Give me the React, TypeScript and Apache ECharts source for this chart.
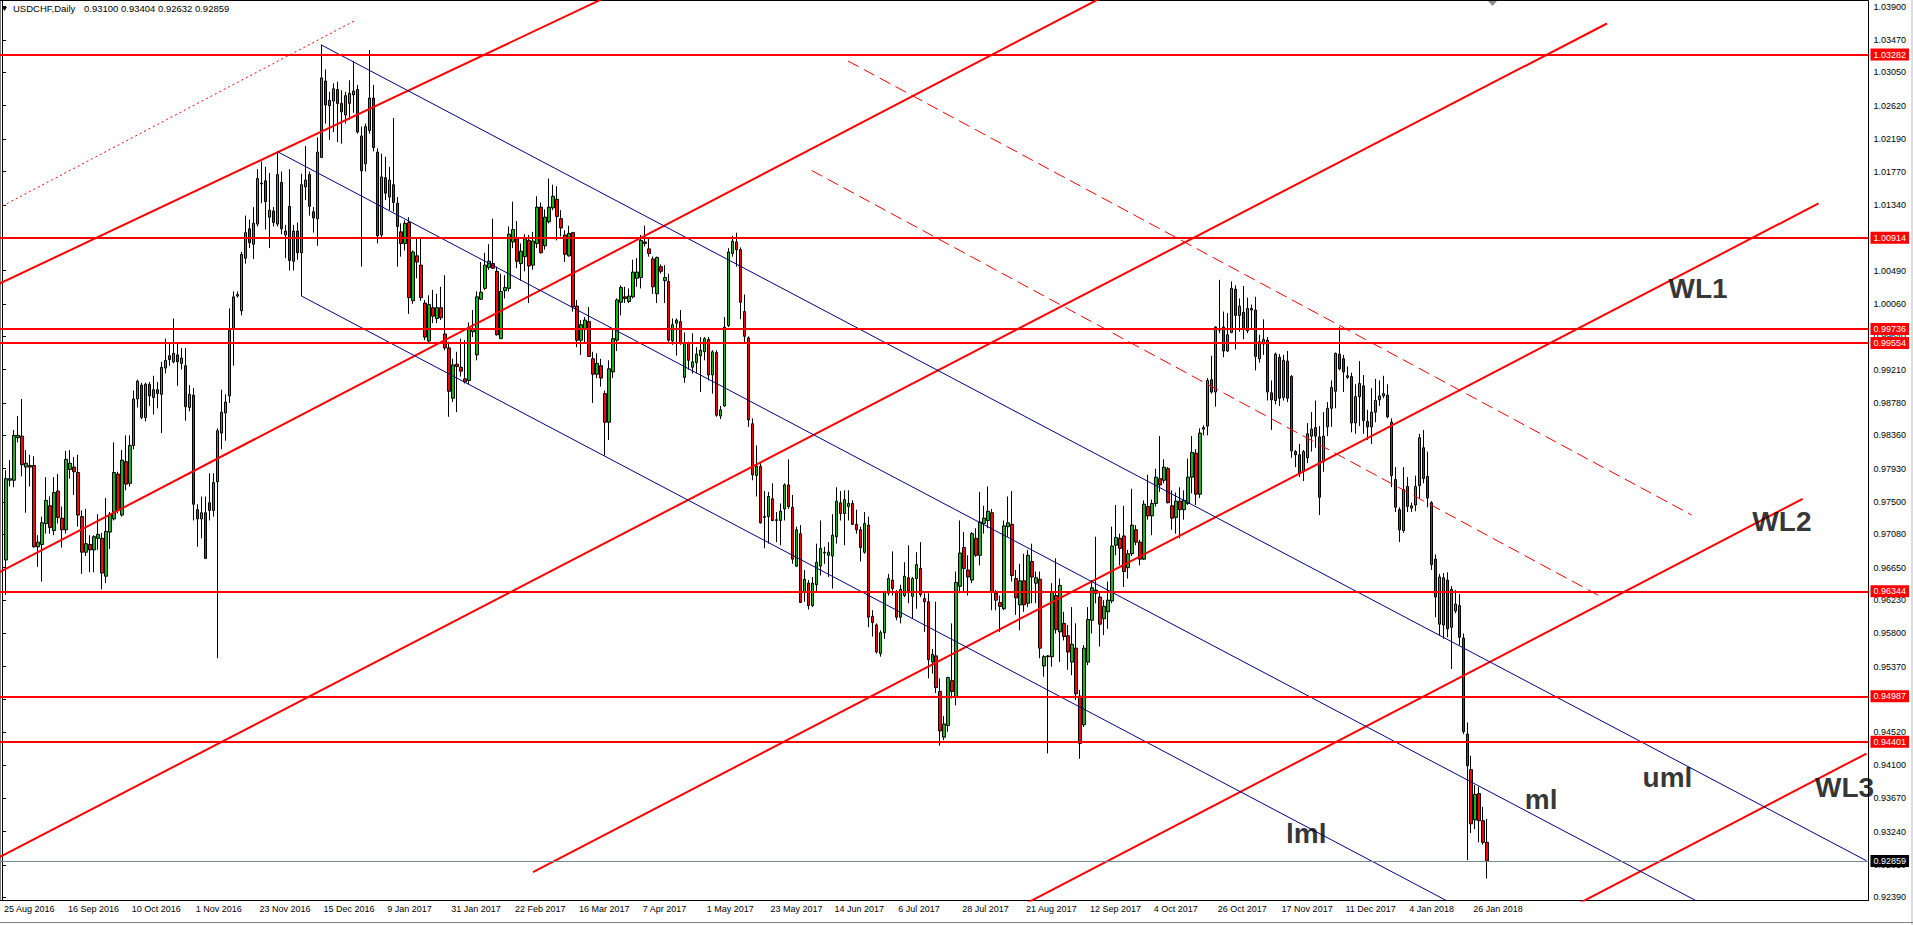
import React, { useEffect, useRef } from "react";
import * as echarts from "echarts";

const FONT = "Liberation Sans";

const symbolName = "USDCHF,Daily";
const lastBarText = "0.93100 0.93404 0.92632 0.92859";

// daily candles [open, close, low, high]; bar 0 (25 Aug 2016) is off the left edge
const ohlc: (number[] | string)[] = [
  "-",
  [0.9675, 0.978, 0.963, 0.9791], [0.9778, 0.978, 0.977, 0.9804], [0.9778, 0.9836, 0.9769, 0.9843], [0.9833, 0.9836, 0.9827, 0.9861],
  [0.9835, 0.9798, 0.9783, 0.9883], [0.9795, 0.98, 0.9736, 0.9817], [0.9797, 0.9795, 0.977, 0.9811], [0.9797, 0.9692, 0.9691, 0.9809],
  [0.9692, 0.9698, 0.9666, 0.9707], [0.9695, 0.9723, 0.9647, 0.9731], [0.9722, 0.9752, 0.9709, 0.9782], [0.9745, 0.9717, 0.9709, 0.9757],
  [0.9713, 0.9762, 0.9707, 0.9782], [0.9764, 0.973, 0.9722, 0.9786], [0.9729, 0.9714, 0.9691, 0.9744], [0.9714, 0.9805, 0.9709, 0.9816],
  [0.9792, 0.98, 0.978, 0.9817], [0.9795, 0.9789, 0.9759, 0.9808], [0.9788, 0.9733, 0.9718, 0.9811], [0.9731, 0.9685, 0.9657, 0.9739],
  [0.9685, 0.9696, 0.968, 0.9741], [0.9695, 0.9688, 0.9659, 0.9707], [0.9688, 0.9705, 0.9659, 0.9707], [0.9703, 0.9708, 0.9688, 0.9734],
  [0.9703, 0.9658, 0.9637, 0.971], [0.9654, 0.9712, 0.9645, 0.9755], [0.9711, 0.9734, 0.9689, 0.9737], [0.9728, 0.9788, 0.9726, 0.9827],
  [0.9786, 0.9739, 0.9735, 0.9789], [0.9733, 0.9804, 0.9731, 0.9817], [0.9802, 0.9773, 0.9765, 0.9836], [0.9774, 0.9823, 0.977, 0.9836],
  [0.9823, 0.9883, 0.9818, 0.9894], [0.9883, 0.9906, 0.9872, 0.9908], [0.9901, 0.9859, 0.9857, 0.9904], [0.9859, 0.9902, 0.9854, 0.9904],
  [0.9902, 0.9887, 0.9874, 0.9905], [0.9885, 0.9895, 0.9863, 0.9913], [0.9895, 0.989, 0.9871, 0.9905], [0.9889, 0.9924, 0.9839, 0.9931],
  [0.9923, 0.9933, 0.9916, 0.9961], [0.9939, 0.9934, 0.9926, 0.9956], [0.9931, 0.9942, 0.9929, 0.9987], [0.994, 0.9931, 0.99, 0.9956],
  [0.9929, 0.9936, 0.9921, 0.9949], [0.9926, 0.9873, 0.9855, 0.9949], [0.9872, 0.9889, 0.9867, 0.9901], [0.9888, 0.9747, 0.9726, 0.9897],
  [0.974, 0.9728, 0.9692, 0.9747], [0.9728, 0.9736, 0.9703, 0.9757], [0.9736, 0.9677, 0.9677, 0.9757], [0.9749, 0.9739, 0.9726, 0.9787],
  [0.9739, 0.9775, 0.9731, 0.9787], [0.9776, 0.9842, 0.9548, 0.9845], [0.9839, 0.9866, 0.9818, 0.9895], [0.9865, 0.9879, 0.9829, 0.9889],
  [0.9887, 0.9972, 0.9878, 1.0], [0.9973, 1.0015, 0.9926, 1.0022], [1.0016, 1.0018, 1.0014, 1.0022], [0.9997, 1.007, 0.9991, 1.0073],
  [1.0065, 1.0098, 1.0058, 1.012], [1.0103, 1.0085, 1.0078, 1.0115], [1.0083, 1.011, 1.0064, 1.0131], [1.0109, 1.0168, 1.0106, 1.018],
  [1.0162, 1.0161, 1.0136, 1.019], [1.0165, 1.0138, 1.0102, 1.0183], [1.0118, 1.0127, 1.0078, 1.0175], [1.0126, 1.0111, 1.0106, 1.0131],
  [1.0109, 1.0173, 1.0106, 1.0203], [1.0163, 1.0103, 1.0096, 1.0177], [1.0095, 1.01, 1.0065, 1.0108], [1.0132, 1.0062, 1.0049, 1.018],
  [1.0061, 1.01, 1.0049, 1.0108], [1.01, 1.0072, 1.0063, 1.0111], [1.0072, 1.016, 1.0016, 1.0174], [1.0157, 1.0166, 1.014, 1.021],
  [1.0173, 1.0132, 1.012, 1.0177], [1.0125, 1.0117, 1.0098, 1.0131], [1.0116, 1.0202, 1.0081, 1.0221], [1.0195, 1.0298, 1.0195, 1.0341],
  [1.0294, 1.0263, 1.0239, 1.0309], [1.0262, 1.0269, 1.0218, 1.028], [1.0268, 1.0284, 1.0228, 1.0291], [1.0283, 1.0265, 1.0215, 1.0293],
  [1.0265, 1.0254, 1.0213, 1.0282], [1.025, 1.0275, 1.0239, 1.028], [1.0265, 1.0278, 1.0244, 1.0295], [1.0276, 1.0281, 1.0253, 1.032],
  [1.0283, 1.0228, 1.0226, 1.0289], [1.0223, 1.0178, 1.0054, 1.0235], [1.0187, 1.0235, 1.0177, 1.0239], [1.023, 1.0272, 1.0226, 1.0334],
  [1.0272, 1.0208, 1.0203, 1.0289], [1.0202, 1.0094, 1.0084, 1.0207], [1.0095, 1.017, 1.009, 1.02], [1.0169, 1.0149, 1.014, 1.0196],
  [1.0144, 1.0166, 1.0127, 1.0183], [1.016, 1.0137, 1.0125, 1.0246], [1.0136, 1.0106, 1.0054, 1.0144], [1.0099, 1.0084, 1.0067, 1.011],
  [1.0084, 1.011, 1.0075, 1.0114], [1.0111, 1.0014, 0.9993, 1.0118], [1.001, 1.0073, 1.0006, 1.0075], [1.0068, 1.006, 1.0039, 1.009],
  [1.0056, 1.0014, 1.001, 1.0092], [1.0007, 0.9963, 0.9959, 1.0011], [0.9958, 1.0005, 0.9955, 1.0017], [1.0001, 0.999, 0.9981, 1.0024],
  [0.9987, 1.0001, 0.9981, 1.0019], [1.0001, 0.9988, 0.9985, 1.0028], [0.9967, 0.9949, 0.9946, 1.0043], [0.9949, 0.9893, 0.986, 0.9957],
  [0.9884, 0.9927, 0.9879, 0.9935], [0.9928, 0.9925, 0.9866, 0.9944], [0.9924, 0.9919, 0.9912, 0.9961], [0.9909, 0.9905, 0.9903, 0.9959],
  [0.9907, 0.9975, 0.9902, 0.9982], [0.997, 0.9974, 0.9963, 0.9998], [0.994, 1.0015, 0.9933, 1.0022], [1.0012, 1.0021, 1.0011, 1.006],
  [1.0026, 1.0056, 1.0024, 1.0072], [1.0053, 1.0061, 1.005, 1.0083], [1.0058, 1.0052, 1.0051, 1.0116], [1.0048, 0.9966, 0.9965, 1.0054],
  [0.9961, 1.0022, 0.9961, 1.0045], [1.0023, 1.0027, 1.0013, 1.0043], [1.0026, 1.0096, 1.0022, 1.0106], [1.0086, 1.0102, 1.0078, 1.0138],
  [1.009, 1.0061, 1.0052, 1.0113], [1.0058, 1.0074, 1.0036, 1.0084], [1.0067, 1.009, 1.0048, 1.0096], [1.0088, 1.0055, 1.0007, 1.0095],
  [1.0056, 1.0087, 1.005, 1.0099], [1.0084, 1.0131, 1.0078, 1.0145], [1.0131, 1.0072, 1.0071, 1.0137], [1.0081, 1.0118, 1.0076, 1.0128],
  [1.0112, 1.0131, 1.011, 1.0168], [1.013, 1.0145, 1.0127, 1.016], [1.0141, 1.0119, 1.0088, 1.0158], [1.0116, 1.0104, 1.0093, 1.0127],
  [1.0095, 1.007, 1.006, 1.0101], [1.0068, 1.0097, 1.0067, 1.0107], [1.0098, 1.0002, 0.9996, 1.0099], [1.0003, 0.9959, 0.995, 1.0011],
  [0.9959, 0.9979, 0.994, 0.9985], [0.9974, 0.9985, 0.9955, 0.9989], [0.9983, 0.9938, 0.9938, 1.0002], [0.9935, 0.9915, 0.9878, 0.9944],
  [0.9915, 0.9929, 0.991, 0.9942], [0.9926, 0.991, 0.9899, 0.9935], [0.989, 0.9853, 0.981, 0.9894], [0.9853, 0.9922, 0.983, 0.9933],
  [0.9918, 0.9961, 0.991, 0.9974], [0.9959, 1.0011, 0.9945, 1.0013], [1.0008, 1.0027, 0.9991, 1.003], [1.0015, 1.0013, 1.0007, 1.0028],
  [1.0009, 1.0016, 1.0007, 1.0026], [1.0015, 1.0047, 1.0013, 1.0063], [1.0039, 1.0047, 1.0028, 1.0065], [1.004, 1.0088, 1.0026, 1.0095],
  [1.0086, 1.0084, 1.008, 1.0107], [1.0077, 1.0071, 1.0067, 1.0091], [1.0064, 1.0028, 1.0019, 1.0067], [1.0019, 1.0066, 1.0007, 1.0067],
  [1.0054, 1.0048, 1.0045, 1.0057], [1.0036, 1.004, 1.0007, 1.0056], [1.0035, 0.9959, 0.9957, 1.0045], [0.9958, 0.9979, 0.9953, 0.9987],
  [0.9981, 0.9985, 0.9939, 0.9987], [0.9983, 0.9955, 0.9953, 0.9998], [0.9911, 0.9956, 0.9904, 0.9969], [0.9955, 0.9933, 0.9921, 0.9957],
  [0.9924, 0.9931, 0.9916, 0.9968], [0.993, 0.9941, 0.9916, 0.995], [0.9939, 0.9946, 0.9892, 0.9963], [0.9944, 0.9961, 0.9933, 0.9963],
  [0.996, 0.9914, 0.9907, 0.9963], [0.9914, 0.9944, 0.989, 0.9946], [0.9943, 0.9862, 0.986, 0.9946], [0.9861, 0.9869, 0.9857, 0.9874],
  [0.9874, 0.9976, 0.9873, 0.9989], [0.9978, 1.0073, 0.9976, 1.0078], [1.0071, 1.0087, 1.0067, 1.0094], [1.0086, 1.0076, 1.0054, 1.0098],
  [1.0076, 1.0008, 0.9986, 1.0079], [0.9996, 0.9964, 0.9956, 1.0018], [0.9962, 0.9856, 0.9847, 0.9964], [0.9851, 0.9785, 0.9778, 0.9858],
  [0.9784, 0.9796, 0.9757, 0.9823], [0.9796, 0.9723, 0.9722, 0.98], [0.973, 0.9731, 0.969, 0.9764], [0.9731, 0.9757, 0.9696, 0.9763],
  [0.9754, 0.9726, 0.9725, 0.9774], [0.9727, 0.9726, 0.9698, 0.9737], [0.9726, 0.9738, 0.9694, 0.9748], [0.9741, 0.9772, 0.9726, 0.9774],
  [0.9772, 0.9744, 0.9741, 0.9805], [0.9743, 0.9676, 0.967, 0.9759], [0.9667, 0.9714, 0.9666, 0.9718], [0.9709, 0.962, 0.962, 0.972],
  [0.9633, 0.965, 0.9621, 0.9662], [0.9645, 0.9616, 0.9611, 0.9649], [0.9616, 0.9645, 0.9614, 0.9653], [0.9643, 0.9672, 0.9634, 0.9696],
  [0.9667, 0.969, 0.9655, 0.9726], [0.9684, 0.9685, 0.967, 0.9692], [0.9681, 0.9685, 0.9653, 0.9698], [0.968, 0.9707, 0.9638, 0.9734],
  [0.9705, 0.9751, 0.9696, 0.9769], [0.9749, 0.9735, 0.9726, 0.9764], [0.9735, 0.9753, 0.9694, 0.9765], [0.9744, 0.9748, 0.9726, 0.9765],
  [0.9748, 0.9721, 0.972, 0.9752], [0.9721, 0.9714, 0.9709, 0.974], [0.9714, 0.9691, 0.9673, 0.9718], [0.9685, 0.9722, 0.9683, 0.9737],
  [0.972, 0.9601, 0.9588, 0.9731], [0.9602, 0.9594, 0.9576, 0.961], [0.9591, 0.9556, 0.9554, 0.9593], [0.9554, 0.9581, 0.955, 0.9584],
  [0.9581, 0.9634, 0.9573, 0.9635], [0.9632, 0.9651, 0.9629, 0.9657], [0.9649, 0.9638, 0.9629, 0.9686], [0.9633, 0.9601, 0.9597, 0.9636],
  [0.9601, 0.9637, 0.9593, 0.9643], [0.9629, 0.9654, 0.9627, 0.9672], [0.9652, 0.9635, 0.9619, 0.9694], [0.9628, 0.9651, 0.9599, 0.9653],
  [0.9651, 0.9669, 0.9612, 0.9685], [0.9664, 0.963, 0.9627, 0.9698], [0.9625, 0.9621, 0.9582, 0.9632], [0.9621, 0.9546, 0.9522, 0.9632],
  [0.9543, 0.9553, 0.9528, 0.956], [0.9551, 0.951, 0.9503, 0.9621], [0.9505, 0.9454, 0.9435, 0.9522], [0.9446, 0.9463, 0.9442, 0.9473],
  [0.9461, 0.9523, 0.9453, 0.9524], [0.9519, 0.9505, 0.9496, 0.9593], [0.9498, 0.9646, 0.9487, 0.966], [0.9641, 0.9684, 0.9632, 0.9726],
  [0.9691, 0.9664, 0.9634, 0.9711], [0.9662, 0.9653, 0.9629, 0.9681], [0.9649, 0.9709, 0.9645, 0.9711], [0.9703, 0.9681, 0.9679, 0.9716],
  [0.9681, 0.9724, 0.9668, 0.9763], [0.9722, 0.9729, 0.9709, 0.9745], [0.9726, 0.9738, 0.9716, 0.977], [0.9736, 0.9634, 0.961, 0.9741],
  [0.9632, 0.9623, 0.961, 0.9636], [0.962, 0.9615, 0.9582, 0.9629], [0.9612, 0.9719, 0.961, 0.9726], [0.9718, 0.9723, 0.9705, 0.9757],
  [0.9721, 0.9655, 0.9647, 0.9764], [0.9651, 0.9626, 0.9604, 0.9662], [0.9617, 0.9648, 0.9584, 0.967], [0.9648, 0.9617, 0.9608, 0.9683],
  [0.9619, 0.9681, 0.9614, 0.9688], [0.9673, 0.9653, 0.9619, 0.9696], [0.9645, 0.9652, 0.9619, 0.966], [0.965, 0.9561, 0.9548, 0.966],
  [0.9538, 0.955, 0.9524, 0.9552], [0.9551, 0.955, 0.9425, 0.9552], [0.955, 0.9634, 0.9537, 0.9645], [0.9629, 0.9585, 0.958, 0.9677],
  [0.9582, 0.9642, 0.9543, 0.9651], [0.9593, 0.9576, 0.9571, 0.9608], [0.9577, 0.9556, 0.9533, 0.9591], [0.9543, 0.9566, 0.9526, 0.9614],
  [0.9561, 0.9502, 0.9494, 0.9593], [0.9499, 0.9438, 0.9418, 0.9507], [0.9462, 0.9561, 0.9459, 0.9565], [0.9543, 0.9598, 0.9539, 0.9614],
  [0.9597, 0.9639, 0.958, 0.9649], [0.9636, 0.9632, 0.9619, 0.9705], [0.9627, 0.9592, 0.9563, 0.9634], [0.9599, 0.9615, 0.9578, 0.9623],
  [0.9608, 0.9623, 0.9586, 0.9647], [0.9622, 0.9693, 0.9619, 0.9718], [0.9694, 0.9704, 0.9681, 0.9746], [0.9703, 0.969, 0.9668, 0.9709],
  [0.9706, 0.966, 0.964, 0.9745], [0.9665, 0.9683, 0.9651, 0.9688], [0.9683, 0.972, 0.968, 0.9767], [0.9714, 0.9698, 0.9694, 0.972],
  [0.9698, 0.9676, 0.9668, 0.9701], [0.9676, 0.9747, 0.9675, 0.9752], [0.9744, 0.9732, 0.9727, 0.9785], [0.9732, 0.9748, 0.9707, 0.9753],
  [0.9748, 0.9782, 0.9744, 0.9793], [0.978, 0.9772, 0.9763, 0.9835], [0.9778, 0.9795, 0.9774, 0.9805], [0.9793, 0.9749, 0.9748, 0.9795],
  [0.9745, 0.9729, 0.9714, 0.9765], [0.973, 0.9751, 0.9709, 0.9762], [0.9751, 0.974, 0.9703, 0.9769], [0.974, 0.9752, 0.9727, 0.9765],
  [0.9748, 0.9782, 0.9746, 0.9806], [0.9782, 0.9814, 0.9761, 0.9835], [0.9813, 0.976, 0.9746, 0.9818], [0.976, 0.9839, 0.9755, 0.9845],
  [0.9844, 0.9846, 0.9836, 0.9849], [0.9848, 0.9907, 0.9836, 0.991], [0.9908, 0.9892, 0.989, 0.9939], [0.9892, 0.9976, 0.9873, 0.9977],
  [0.9972, 0.9973, 0.9968, 1.0037], [0.9976, 0.9945, 0.9937, 0.9996], [0.9945, 0.9966, 0.9944, 0.9994], [0.9969, 1.0026, 0.9968, 1.0035],
  [1.0025, 0.9991, 0.9947, 1.003], [0.9991, 1.0003, 0.997, 1.0013], [0.9995, 0.9973, 0.996, 1.0029], [0.9971, 1.0, 0.9968, 1.0014],
  [1.0, 0.9998, 0.9973, 1.0005], [0.9998, 0.9938, 0.992, 1.0015], [0.9935, 0.9957, 0.993, 0.9966], [0.9954, 0.996, 0.994, 0.9986],
  [0.9959, 0.9892, 0.9881, 0.9963], [0.9891, 0.9882, 0.9843, 0.9907], [0.9881, 0.9941, 0.9876, 0.9943], [0.9937, 0.9884, 0.9874, 0.9941],
  [0.9885, 0.9933, 0.9881, 0.994], [0.9932, 0.9884, 0.9879, 0.9945], [0.9912, 0.9816, 0.9807, 0.9914], [0.9815, 0.9811, 0.9795, 0.9817],
  [0.9811, 0.9787, 0.9782, 0.9825], [0.979, 0.9815, 0.9777, 0.9817], [0.9807, 0.9838, 0.98, 0.9852], [0.9835, 0.9844, 0.9815, 0.9866],
  [0.9846, 0.9835, 0.982, 0.9881], [0.9834, 0.9756, 0.9733, 0.9848], [0.9802, 0.9835, 0.9789, 0.9866], [0.9847, 0.9871, 0.9835, 0.9879],
  [0.9871, 0.9898, 0.9847, 0.9907], [0.9893, 0.9942, 0.9871, 0.9943], [0.9941, 0.9922, 0.992, 0.9976], [0.9935, 0.9918, 0.9892, 0.994],
  [0.9913, 0.9911, 0.9909, 0.9925], [0.9912, 0.9852, 0.984, 0.9917], [0.9852, 0.9886, 0.9838, 0.9902], [0.9886, 0.9903, 0.9848, 0.9932],
  [0.99, 0.9855, 0.9838, 0.9914], [0.9854, 0.9847, 0.983, 0.9869], [0.9847, 0.9866, 0.9825, 0.9897], [0.9866, 0.9881, 0.9853, 0.9909],
  [0.9882, 0.9887, 0.9874, 0.9907], [0.9887, 0.989, 0.9884, 0.9913], [0.9888, 0.986, 0.9858, 0.9902], [0.9853, 0.9784, 0.9769, 0.9858],
  [0.9779, 0.9743, 0.9737, 0.9795], [0.974, 0.9714, 0.9698, 0.9743], [0.9713, 0.9766, 0.971, 0.9795], [0.977, 0.9744, 0.9737, 0.9782],
  [0.9742, 0.9745, 0.9737, 0.9749], [0.9746, 0.977, 0.9738, 0.9784], [0.9771, 0.9833, 0.9754, 0.9838], [0.982, 0.978, 0.9774, 0.9843],
  [0.9783, 0.9755, 0.9743, 0.9815], [0.9749, 0.9669, 0.9662, 0.9751], [0.9676, 0.9627, 0.9601, 0.9682], [0.9592, 0.9653, 0.9578, 0.9657],
  [0.9591, 0.9652, 0.9573, 0.9658], [0.9649, 0.9586, 0.9575, 0.9659], [0.9588, 0.9637, 0.9534, 0.9641], [0.9609, 0.9618, 0.9606, 0.9636],
  [0.9616, 0.9575, 0.9565, 0.9631], [0.9574, 0.9453, 0.945, 0.958], [0.945, 0.9409, 0.9287, 0.9465], [0.9404, 0.9334, 0.9322, 0.9422],
  [0.9339, 0.9372, 0.9327, 0.9384], [0.9373, 0.9338, 0.931, 0.9382], [0.9338, 0.931, 0.9307, 0.9356], [0.931, 0.92859, 0.92632, 0.93404],
];

// one label every 16 bars, starting at bar 0
const tickLabels = [
  "25 Aug 2016", "16 Sep 2016", "10 Oct 2016", "1 Nov 2016", "23 Nov 2016", "15 Dec 2016",
  "9 Jan 2017", "31 Jan 2017", "22 Feb 2017", "16 Mar 2017", "7 Apr 2017", "1 May 2017",
  "23 May 2017", "14 Jun 2017", "6 Jul 2017", "28 Jul 2017", "21 Aug 2017", "12 Sep 2017",
  "4 Oct 2017", "26 Oct 2017", "17 Nov 2017", "11 Dec 2017", "4 Jan 2018", "26 Jan 2018",
];

const priceTicks = [
  1.039, 1.0347, 1.0305, 1.0262, 1.0219, 1.0177, 1.0134, 1.0091, 1.0049, 1.0006,
  0.9964, 0.9921, 0.9878, 0.9836, 0.9793, 0.975, 0.9708, 0.9665, 0.9623, 0.958,
  0.9537, 0.9495, 0.9452, 0.941, 0.9367, 0.9324, 0.9281, 0.9239,
];

const levels = [1.03282, 1.00914, 0.99736, 0.99554, 0.96344, 0.94987, 0.94401];
const lastPrice = 0.92859;

// [bar1, price1, bar2, price2]
const channelLines = [
  [-12, 1.00045, 150, 1.03991],
  [-12, 0.96285, 288, 1.04356],
  [-12, 0.92606, 402, 1.03683],
  [133, 0.92714, 455, 1.01358],
  [255, 0.9227, 451, 0.97539],
  [395, 0.92312, 467, 0.94248],
];
const dashedLines = [
  [211.9, 1.03198, 423.2, 0.97331],
  [202.8, 1.01783, 400.3, 0.9628],
];
const dottedLine = [-1, 1.01295, 88.7, 1.03728];
const forkLines = [
  [80, 1.03405, 467, 0.92862],
  [69, 1.02026, 430, 0.92191],
  [75, 1.00161, 370, 0.92124],
];

const notes: [string, number, number][] = [
  ["WL1", 417.4, 1.00264],
  ["WL2", 438.4, 0.97253],
  ["WL3", 454.1, 0.93815],
  ["uml", 410.9, 0.93934],
  ["ml", 381.4, 0.9365],
  ["lml", 321.6, 0.93217],
];

const BAR_SLOTS = 468;
const categories = Array.from({ length: BAR_SLOTS }, (_, i) => String(i));
const lastLabelBar = (tickLabels.length - 1) * 16;

const segment = (l: number[], color: string, width: number, type: any) => ({
  type: "line",
  xAxisIndex: 1,
  yAxisIndex: 0,
  data: [
    [l[0], l[1]],
    [l[2], l[3]],
  ],
  symbol: "none",
  silent: true,
  z: 4,
  lineStyle: { color, width, type },
});

const App: React.FC = () => {
  const chartRef = useRef<HTMLDivElement>(null);

  useEffect(() => {
    if (!chartRef.current) return;
    const chart = echarts.init(chartRef.current, undefined, { renderer: "svg" });

    const showTick = (index: number) => index % 16 === 0 && index <= lastLabelBar;

    const levelLabel = (bg: string) => ({
      show: true,
      position: "end",
      distance: 2,
      formatter: (p: any) => Number(p.value).toFixed(5),
      color: "#fff",
      backgroundColor: bg,
      padding: [2, 3, 1, 3],
      fontSize: 9,
      fontFamily: FONT,
    });

    const option = {
      animation: false,
      backgroundColor: "#fff",
      grid: {
        left: -3.5,
        top: 0.5,
        width: 1872,
        height: 900,
        show: true,
        borderColor: "#000",
        borderWidth: 1,
        backgroundColor: "#fff",
      },
      xAxis: [
        {
          type: "category",
          data: categories,
          boundaryGap: true,
          axisLine: { lineStyle: { color: "#000", width: 1 } },
          axisTick: {
            alignWithLabel: true,
            interval: (i: number) => showTick(i),
            length: 4,
            lineStyle: { color: "#000" },
          },
          axisLabel: {
            interval: (i: number) => showTick(i),
            formatter: (_v: string, i: number) => (showTick(i) ? tickLabels[i / 16] : ""),
            align: "left",
            verticalAlign: "top",
            margin: 4,
            padding: [0, 0, 0, 2],
            color: "#000",
            fontSize: 9,
            fontFamily: FONT,
          },
          splitLine: { show: false },
        },
        { type: "value", min: -0.5, max: BAR_SLOTS - 0.5, show: false },
      ],
      yAxis: {
        type: "value",
        position: "right",
        min: 0.923486,
        max: 1.039801,
        splitLine: { show: false },
        axisLine: { show: true, lineStyle: { color: "#000", width: 1 } },
        axisTick: { show: true, customValues: priceTicks, length: 4, lineStyle: { color: "#000" } },
        axisLabel: {
          customValues: priceTicks,
          formatter: (v: number) => v.toFixed(5),
          margin: 5,
          color: "#000",
          fontSize: 9,
          fontFamily: FONT,
        },
      },
      series: [
        {
          type: "candlestick",
          xAxisIndex: 0,
          yAxisIndex: 0,
          data: ohlc,
          barWidth: 3,
          z: 2,
          itemStyle: {
            color: "#14b814",
            color0: "#ff0000",
            borderColor: "#000",
            borderColor0: "#000",
            borderWidth: 1,
          },
          markLine: {
            symbol: ["none", "none"],
            precision: 5,
            silent: true,
            animation: false,
            data: [
              ...levels.map((v) => ({
                yAxis: v,
                lineStyle: { color: "#ff0000", width: 2, type: "solid" },
                label: levelLabel("#ff0000"),
              })),
              {
                yAxis: lastPrice,
                lineStyle: { color: "#778899", width: 1, type: "solid" },
                label: levelLabel("#000"),
              },
            ],
          },
        },
        ...channelLines.map((l) => segment(l, "#ff0000", 2, "solid")),
        ...dashedLines.map((l) => segment(l, "#ff0000", 1, [12, 6])),
        segment(dottedLine, "#ff0000", 1, [2, 3]),
        ...forkLines.map((l) => segment(l, "#000080", 1, "solid")),
        {
          type: "scatter",
          xAxisIndex: 1,
          yAxisIndex: 0,
          symbolSize: 0.1,
          silent: true,
          z: 5,
          itemStyle: { color: "rgba(0,0,0,0)" },
          data: notes.map((n) => ({ name: n[0], value: [n[1], n[2]] })),
          label: {
            show: true,
            formatter: "{b}",
            position: "right",
            distance: 0,
            color: "#000",
            fontSize: 28,
            fontWeight: "bold",
            fontFamily: FONT,
          },
        },
      ],
      graphic: [
        {
          type: "polygon",
          shape: { points: [[2, 7], [7, 7], [4.5, 11]] },
          style: { fill: "#000" },
        },
        {
          type: "text",
          left: 13,
          top: 3,
          style: { text: symbolName, fontSize: 9.5, fontFamily: FONT, fill: "#000" },
        },
        {
          type: "text",
          left: 84,
          top: 3,
          style: { text: lastBarText, fontSize: 9.5, fontFamily: FONT, fill: "#000" },
        },
        {
          type: "polygon",
          shape: { points: [[1488, 1], [1497, 1], [1492.5, 6]] },
          style: { fill: "#8c8c8c" },
        },
        {
          type: "rect",
          shape: { x: 1911, y: 0, width: 2, height: 925 },
          style: { fill: "#dcdcdc" },
        },
        {
          type: "rect",
          shape: { x: 0, y: 922, width: 1913, height: 1 },
          style: { fill: "#808080" },
        },
      ],
    };

    chart.setOption(option as any);

    return () => {
      chart.dispose();
    };
  }, []);

  return (
    <div
      ref={chartRef}
      style={{ position: "fixed", left: 0, top: 0, width: 1913, height: 925, background: "#fff" }}
    />
  );
};

export default App;
